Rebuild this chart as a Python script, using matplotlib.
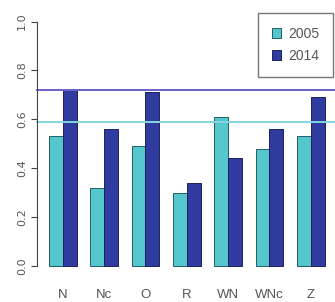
import matplotlib
matplotlib.use('Agg')
from matplotlib import pyplot as plt
from matplotlib.patches import Patch
import numpy as np

categories = ['N', 'Nc', 'O', 'R', 'WN', 'WNc', 'Z']
values_2005 = [0.53, 0.32, 0.49, 0.30, 0.61, 0.48, 0.53]
values_2014 = [0.72, 0.56, 0.71, 0.34, 0.44, 0.56, 0.69]
mean_2005 = 0.59
mean_2014 = 0.72
yticks = [0.0, 0.2, 0.4, 0.6, 0.8, 1.0]

col_2005 = '#55c6cc'
col_2014 = '#2f3b9e'
line_2005 = '#86d6de'
line_2014 = '#6a62c8'
text_col = '#555555'
narrow = ['Liberation Sans Narrow', 'Liberation Sans', 'DejaVu Sans']

fig = plt.figure(figsize=(3.35, 3.02), dpi=100)
ax = fig.add_axes([0.1116, 0.0877, 0.933, 0.873])

# R barplot layout: bar width 1, one unit gap between groups
groups = np.arange(len(categories)) * 3
x05 = groups + 1.5
x14 = groups + 2.5

ax.bar(x05, values_2005, width=1.0, color=col_2005, edgecolor='#1f5f66', linewidth=0.7)
ax.bar(x14, values_2014, width=1.0, color=col_2014, edgecolor='#1a2260', linewidth=0.7)

ax.axhline(mean_2014, color=line_2014, linewidth=1.4, clip_on=False)
ax.axhline(mean_2005, color=line_2005, linewidth=1.4, clip_on=False)

ax.set_xlim(0.16, 22.84)
ax.set_ylim(-0.04, 1.04)

for s in ['top', 'right', 'bottom']:
    ax.spines[s].set_visible(False)
ax.spines['left'].set_bounds(0, 1)
ax.spines['left'].set_color('#444444')
ax.spines['left'].set_linewidth(0.8)

ax.set_yticks(yticks)
ax.set_yticklabels(['%.1f' % v for v in yticks], rotation=90, va='center',
                   fontsize=8, color=text_col)
ax.tick_params(axis='y', length=4.5, width=0.8, color='#444444', pad=3)

ax.set_xticks(groups + 2)
ax.set_xticklabels(categories, fontsize=9.5, color=text_col, family=narrow)
ax.tick_params(axis='x', length=0, pad=10)

handles = [Patch(facecolor=col_2005, edgecolor='#1f5f66', linewidth=0.7),
           Patch(facecolor=col_2014, edgecolor='#1a2260', linewidth=0.7)]
leg = fig.legend(handles, ['2005', '2014'], loc='upper right',
                 bbox_to_anchor=(0.995, 0.956), frameon=True, fancybox=False,
                 handlelength=0.7, handleheight=0.7, handletextpad=0.5,
                 borderpad=1.0, labelspacing=0.55, borderaxespad=0,
                 prop={'family': narrow, 'size': 10})
leg.get_frame().set_edgecolor('#555555')
leg.get_frame().set_linewidth(1.0)
for t in leg.get_texts():
    t.set_color(text_col)

fig.savefig('out.png', dpi=100)
